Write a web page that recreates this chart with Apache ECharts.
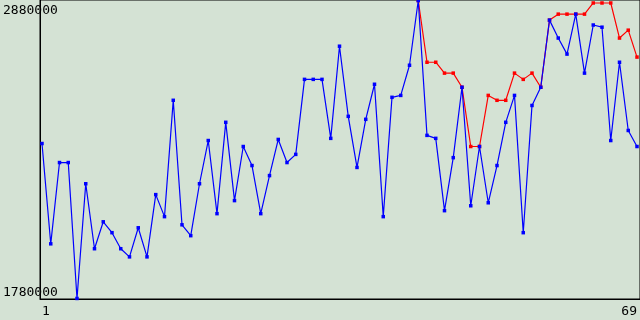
<!DOCTYPE html>
<html><head><meta charset="utf-8">
<script src="https://cdn.jsdelivr.net/npm/echarts@6/dist/echarts.min.js"></script>
<style>html,body{margin:0;padding:0;background:#d4e2d4}#c{width:640px;height:320px}</style>
</head><body><div id="c"></div>
<script>
const categories = Array.from({length: 69}, (_, i) => i + 1);
const xTickLabels = [1, 69];
const yTickLabels = [1780000, 2880000];
const blueValues = [2352000,1983000,2282000,2282000,1782000,2204000,1965000,2064000,2024000,1965000,
  1935000,2042000,1935000,2164000,2083000,2511000,2053000,2013000,2204000,2363000,
  2094000,2430000,2142000,2341000,2271000,2094000,2234000,2367000,2282000,2312000,
  2588000,2588000,2588000,2371000,2710000,2452000,2264000,2441000,2570000,2083000,
  2522000,2529000,2640000,2878000,2382000,2371000,2105000,2300000,2559000,2123000,
  2341000,2134000,2271000,2430000,2529000,2024000,2492000,2559000,2806000,2740000,
  2681000,2828000,2611000,2788000,2780000,2363000,2651000,2400000,2341000];
// red series starts at point 44 (same value as blue there)
const redValues = [2878000,2651000,2651000,2611000,2611000,2559000,2341000,2341000,2529000,2511000,2511000,
  2611000,2588000,2611000,2559000,2806000,2828000,2828000,2828000,2828000,2869000,
  2869000,2869000,2740000,2769000,2670000];
const redStart = 44;

const font = {fontFamily: 'DejaVu Sans Mono', fontSize: 13, color: '#000'};
const chart = echarts.init(document.getElementById('c'), null, {renderer: 'canvas'});
chart.setOption({
  backgroundColor: '#d4e2d4',
  animation: false,
  grid: {left: 40, right: -1, top: 0, bottom: 21, show: true, borderColor: '#000', borderWidth: 1, backgroundColor: 'transparent'},
  xAxis: {
    type: 'value', min: 0.772, max: 69.342,
    axisLine: {show: true, lineStyle: {color: '#000', width: 1}},
    axisTick: {show: false},
    splitLine: {show: false},
    axisLabel: Object.assign({customValues: xTickLabels, margin: 6, alignMinLabel: 'left', alignMaxLabel: 'right', showMinLabel: true, showMaxLabel: true,
      formatter: v => String(v)}, font)
  },
  yAxis: {
    type: 'value', min: yTickLabels[0], max: yTickLabels[1], interval: yTickLabels[1] - yTickLabels[0],
    axisLine: {show: true, lineStyle: {color: '#000', width: 1}},
    axisTick: {show: false},
    splitLine: {show: false},
    axisLabel: Object.assign({align: 'left', margin: 37, verticalAlignMinLabel: 'bottom', verticalAlignMaxLabel: 'top', showMinLabel: true, showMaxLabel: true,
      formatter: v => v === yTickLabels[1] ? '{t|' + v + '}' : String(v),
      rich: {t: Object.assign({lineHeight: 21}, font)}}, font)
  },
  series: [
    {type: 'line', data: redValues.map((v, i) => [categories[redStart - 1 + i], v]), symbol: 'rect', symbolSize: 3.5,
      lineStyle: {color: '#ff0000', width: 1.2}, itemStyle: {color: '#ff0000'}},
    {type: 'line', data: categories.map((c, i) => [c, blueValues[i]]), symbol: 'rect', symbolSize: 3.5,
      lineStyle: {color: '#0000ff', width: 1.2}, itemStyle: {color: '#0000ff'}}
  ]
});
</script></body></html>
